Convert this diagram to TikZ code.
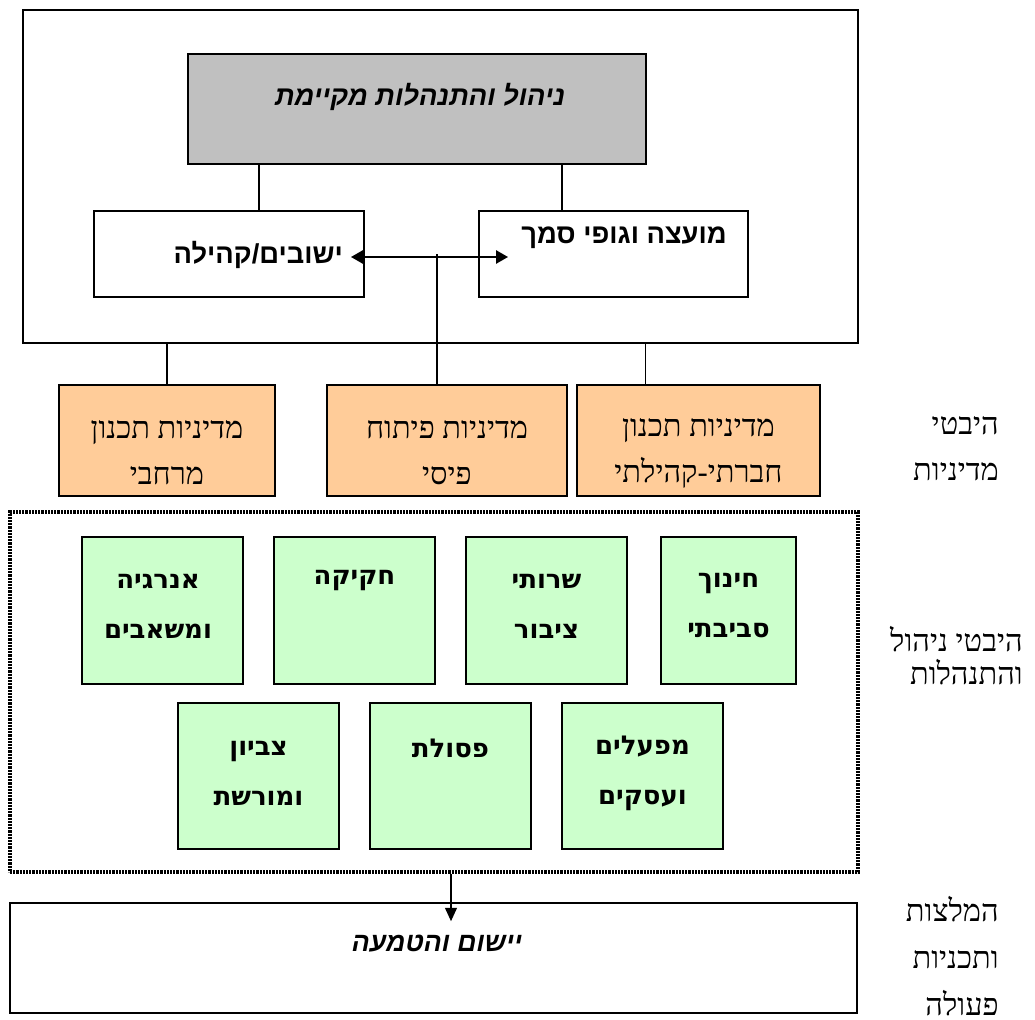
\documentclass[tikz,border=0pt]{standalone}
\usepackage{fontspec}
\usepackage{xcolor}
\usepackage{tikz}
\usetikzlibrary{arrows.meta}
\TeXXeTstate=1
\newfontfamily\hebsans[Script=Hebrew]{Liberation Sans}
\newfontfamily\hebserif[Script=Hebrew]{Liberation Serif}
\newfontfamily\hebround[Script=Hebrew]{DejaVu Sans}
\newcommand{\heb}[1]{\beginR #1\endR}
\definecolor{boxgray}{HTML}{C0C0C0}
\definecolor{boxorange}{HTML}{FFCC99}
\definecolor{boxgreen}{HTML}{CCFFCC}

\begin{document}
\begin{tikzpicture}[x=0.75pt,y=0.75pt,yscale=-1,xscale=1,
    box/.style={draw,line width=1.3pt,inner sep=0pt},
    link/.style={line width=0.9pt},
    policy/.style={box,fill=boxorange,minimum height=83.25pt},
    topic/.style={box,fill=boxgreen,minimum width=120.75pt},
    headtext/.style={inner sep=0.75pt,font=\hebsans\bfseries\fontsize{20.5}{24}\selectfont},
    serif/.style={inner sep=0.75pt,align=center,font=\hebserif\fontsize{23}{34.5}\selectfont},
    topictext/.style={inner sep=0.75pt,align=center,font=\hebround\bfseries\fontsize{19.5}{37.5}\selectfont},
    side/.style={inner sep=0.75pt,align=right,anchor=east,font=\hebserif\fontsize{23}{35}\selectfont}]
    \useasboundingbox (0,0) rectangle (1035,1020);
    %Shape: Rectangle [id:frame]
    \node [box,minimum width=626.25pt,minimum height=249.75pt] (frame) at (440.5,176.5) {};
    %Shape: Rectangle [id:gray]
    \node [box,fill=boxgray,minimum width=343.5pt,minimum height=82.5pt] (gray) at (417,109) {};
    \node [headtext,font=\hebsans\bfseries\itshape\fontsize{20.5}{24}\selectfont] (graytext) at (420,97) {\heb{ניהול והתנהלות מקיימת}};
    %Shape: Rectangle [id:lbox]
    \node [box,minimum width=202.5pt,minimum height=64.5pt] (lbox) at (229,254) {};
    \node [headtext,anchor=east] (ltext) at (344,255) {\heb{ישובים/קהילה}};
    %Shape: Rectangle [id:rbox]
    \node [box,minimum width=201.75pt,minimum height=64.5pt] (rbox) at (613.5,254) {};
    \node [headtext,anchor=east] (rtext) at (728,238) {\heb{מועצה וגופי סמך}};
    %Straight Lines
    \coordinate (lj) at ([xshift=22.5pt]lbox.north);
    \coordinate (rj) at ([xshift=-38.6pt]rbox.north);
    \draw [link] (lj) -- (lj |- gray.south);
    \draw [link] (rj) -- (rj |- gray.south);
    %Double arrow
    \coordinate (al) at (351,257);
    \coordinate (ar) at (508,257);
    \draw [line width=1.3pt,{Triangle[length=9pt,width=10pt]}-{Triangle[length=9pt,width=10pt]}] (al) -- (ar);
    \coordinate (tap) at (437,254);

    %Shape: policy boxes
    \node [policy,minimum width=162pt] (spatial) at (167,440.5) {};
    \node [policy,minimum width=180pt] (physical) at (447,440.5) {};
    \node [policy,minimum width=182.25pt] (social) at (698.5,440.5) {};
    \node [serif] (spatialtext) at (167,453) {\heb{מדיניות תכנון}\\\heb{מרחבי}};
    \node [serif] (physicaltext) at (447,453) {\heb{מדיניות פיתוח}\\\heb{פיסי}};
    \node [serif] (socialtext) at (698.5,453) {\heb{מדיניות תכנון}\\\heb{חברתי-קהילתי}};
    \draw [link] (spatial.north) -- (spatial.north |- frame.south);
    \draw [link] (tap) -- (tap |- physical.north);
    \coordinate (sj) at ([xshift=-40pt]social.north);
    \draw [link] (sj) -- (sj |- frame.south);

    %Shape: dotted frame
    \node [draw,line width=2.6pt,dash pattern=on 1.6pt off 0.8pt,minimum width=636pt,minimum height=270pt] (mgmt) at (434,692) {};
    %Shape: topic boxes
    \node [topic,minimum height=110.25pt] (energy) at (162.5,610.5) {};
    \node [topic,minimum height=110.25pt] (law) at (354.5,610.5) {};
    \node [topic,minimum height=110.25pt] (services) at (546.5,610.5) {};
    \node [topic,minimum height=110.25pt,minimum width=101.25pt] (education) at (728.5,610.5) {};
    \node [topic,minimum height=109.5pt] (heritage) at (258.5,776) {};
    \node [topic,minimum height=109.5pt] (waste) at (450.5,776) {};
    \node [topic,minimum height=109.5pt] (business) at (642.5,776) {};
    \node [topictext] (energytext) at (158,606) {\heb{אנרגיה}\\\heb{ומשאבים}};
    \node [topictext] (lawtext) at (354.5,581) {\heb{חקיקה}};
    \node [topictext] (servicestext) at (546.5,606) {\heb{שרותי}\\\heb{ציבור}};
    \node [topictext] (educationtext) at (728.5,606) {\heb{חינוך}\\\heb{סביבתי}};
    \node [topictext] (heritagetext) at (258.5,773) {\heb{צביון}\\\heb{ומורשת}};
    \node [topictext] (wastetext) at (450.5,748) {\heb{פסולת}};
    \node [topictext] (businesstext) at (642.5,773) {\heb{מפעלים}\\\heb{ועסקים}};

    %Shape: implementation box
    \node [box,minimum width=635.25pt,minimum height=82.5pt] (impl) at (433.5,958) {};
    \node [headtext,font=\hebsans\bfseries\itshape\fontsize{20}{24}\selectfont] (impltext) at (437,944) {\heb{יישום והטמעה}};
    \coordinate (dj) at ([xshift=12.75pt]mgmt.south);
    \coordinate (dtip) at (dj |- impl.north);
    \draw [link,-{Triangle[length=10pt,width=9pt]}] (dj) -- ([yshift=14.25pt]dtip);

    % Text Node
    \node [side] (policylabel) at (1000,448.5) {\heb{היבטי}\\\heb{מדיניות}};
    \node [side,font=\hebserif\fontsize{23}{24.75}\selectfont] (mgmtlabel) at (1024,656) {\heb{היבטי ניהול}\\\heb{והתנהלות}};
    \node [side] (actionlabel) at (1000,956) {\heb{המלצות}\\\heb{ותכניות}\\\heb{פעולה}};
\end{tikzpicture}
\end{document}
